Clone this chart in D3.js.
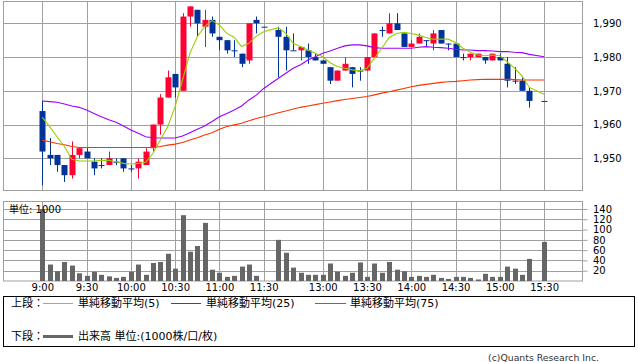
<!DOCTYPE html>
<html><head><meta charset="utf-8">
<script src="https://cdn.jsdelivr.net/npm/d3@7"></script>
<style>
body{margin:0;background:#fff;}
svg{display:block;}
text{font-family:"DejaVu Sans","Noto Sans CJK JP",sans-serif;}
</style>
</head><body><svg id="c" width="638" height="362"></svg>
<script>
// ---- data ----
const timeLabels = ["9:00","9:30","10:00","10:30","11:00","11:30","13:00","13:30","14:00","14:30","15:00","15:30"];
const timeIndex  = [0,6,12,18,24,30,38,44,50,56,62,68];
const priceTicks = [1950,1960,1970,1980,1990];
const priceTickLabels = ["1,950","1,960","1,970","1,980","1,990"];
const volumeTicks = [20,40,60,80,100,120,140];

const openP = [1964,1951,1951,1948,1945,1951,1952,1949,1948,1948,1949,1950,1947,1947,1948,1953,1960,1968,1975,1970,
 1992,1994,1989,1991,1986,1985,1982,1981,1979,1991,1989,null,1988,1986,1982,1982,1982,1980,1979,1977,
 1973,1976,1977,1976,1976,1980,1988,1987,1990,1987,1983,1984,1985,1984,1988,1984,1984,1980,1980,1980,
 1980,1979,1980,1978,1973,1973,1970,null,1967];
const highP = [1967,1956,1951,1948,1955,1953,1953,1950,1950,1952,1950,1950,1948,1950,1953,1960,1969,1976,1975,1993,
 1995,1994,1994,1992,1986,1985,1985,1981,1990,1992,1989,null,1989,1989,1987,1983,1984,1981,1979,1977,
 1976,1980,1977,1977,1980,1987,1989,1993,1993,1987,1985,1987,1985,1988,1988,1984,1984,1981,1981,1981,
 1980,1981,1981,1980,1977,1974,1971,null,1967];
const lowP = [1942,1948,1946,1943,1944,1950,1950,1945,1947,1948,1948,1946,1946,1944,1948,1952,1957,1968,1968,1970,
 1989,1986,1983,1986,1982,1981,1980,1977,1978,1987,1989,null,1974,1976,1982,1979,1978,1979,1978,1972,
 1973,1976,1971,1973,1976,1980,1986,1987,1988,1983,1983,1984,1983,1982,1984,1982,1980,1979,1979,1980,
 1978,1979,1979,1971,1972,1970,1965,null,1967];
const closeP = [1952,1950,1948,1945,1951,1953,1950,1947,1948,1950,1949,1947,1947,1949,1952,1960,1968,1974,1971,1992,
 1995,1990,1991,1987,1985,1982,1982,1978,1990,1990,1989,null,1986,1982,1982,1983,1980,1979,1978,1973,
 1976,1978,1975,1976,1980,1987,1988,1990,1988,1983,1984,1986,1985,1987,1984,1984,1980,1980,1981,1981,
 1979,1981,1979,1973,1973,1970,1967,null,1967];
const volume = [140,32,19,37,30,15,10,18,12,9,6,8,18,32,12,35,37,53,24,128,
 57,68,113,22,16,8,10,28,32,10,0,null,80,55,26,16,12,12,12,34,
 18,10,16,36,8,34,16,37,22,19,8,10,8,12,6,4,8,8,6,3,
 14,8,8,28,24,12,43,null,76];
const ma5 = [1962.1,1959.4,1956.4,1953.5,1949.7,1949.2,1949.2,1949.2,1949.4,1949.4,1949.0,1948.5,1948.3,1948.5,1948.8,1951.5,1955.4,1959.4,1965.3,1973.2,
 1981.1,1986.0,1989.0,1990.8,1989.5,1987.0,1985.9,1983.1,1984.1,1986.2,1987.5,null,1988.7,1987.0,1984.1,1983.1,1982.1,1981.1,1980.1,1978.3,
 1977.2,1976.7,1976.2,1975.9,1976.7,1979.6,1982.6,1985.8,1987.0,1987.3,1987.0,1986.5,1985.8,1985.3,1985.3,1985.3,1984.3,1982.6,1981.4,1980.6,
 1980.4,1980.6,1980.4,1978.6,1976.7,1974.4,1971.0,null,1969.0];
const ma25 = [1967.0,1966.8,1966.6,1966.1,1965.5,1965.1,1964.3,1963.3,1962.3,1961.4,1960.7,1959.6,1958.4,1957.4,1956.4,1956.1,1956.0,1956.0,1956.0,1956.6,
 1957.6,1958.6,1959.6,1960.9,1962.3,1963.3,1964.3,1965.5,1967.3,1968.7,1970.7,null,1973.7,1975.2,1976.7,1977.7,1979.1,1980.1,1981.1,1981.8,
 1982.6,1983.3,1983.6,1983.6,1983.3,1982.8,1982.6,1982.6,1982.6,1982.6,1982.6,1982.9,1983.1,1982.9,1982.8,1982.6,1982.3,1982.1,1982.1,1981.9,
 1981.9,1981.8,1981.6,1981.6,1981.4,1981.3,1980.8,null,1980.1];
const ma75 = [1955.3,1954.9,1954.4,1954.0,1953.5,1953.2,1953.2,1953.2,1953.2,1953.2,1953.2,1953.2,1953.2,1953.2,1953.2,1953.2,1953.5,1953.9,1954.2,1954.7,
 1955.4,1956.1,1956.9,1957.6,1958.6,1959.4,1959.9,1960.4,1961.1,1961.8,1962.3,null,1963.5,1964.0,1964.6,1965.1,1965.5,1965.9,1966.3,1966.7,
 1967.1,1967.4,1967.7,1968.0,1968.3,1968.8,1969.3,1969.7,1970.2,1970.7,1971.2,1971.6,1971.9,1972.2,1972.5,1972.7,1972.8,1973.0,1973.2,1973.3,
 1973.4,1973.4,1973.4,1973.4,1973.3,1973.2,1973.2,null,1973.2];

// ---- layout ----
const svg = d3.select("#c");
const L = 3.5, R = 582.5;
const pTop = 1.5, pBot = 190.5;
const vTop = 201.5, vBot = 281;
const gridC = "#a0a0a0";

const x = d3.scaleLinear().domain([0,68]).range([42.3,544.1]);
const yP = d3.scaleLinear().domain([1950,1990]).range([158.3,23.3]);
const yV = d3.scaleLinear().domain([0,140]).range([vBot,209]);

const idx = d3.range(openP.length).filter(i => openP[i] !== null);

// ---- upper panel grid ----
const gU = svg.append("g");
gU.selectAll(".hg").data(priceTicks).join("line")
  .attr("x1",L).attr("x2",R)
  .attr("y1",d=>Math.round(yP(d))+0.5).attr("y2",d=>Math.round(yP(d))+0.5)
  .attr("stroke",gridC).attr("stroke-width",1);
gU.selectAll(".vg").data(timeIndex).join("line")
  .attr("x1",d=>Math.round(x(d))+0.5).attr("x2",d=>Math.round(x(d))+0.5)
  .attr("y1",pTop).attr("y2",pBot)
  .attr("stroke",gridC).attr("stroke-width",1);
gU.append("rect").attr("x",L).attr("y",pTop).attr("width",R-L).attr("height",pBot-pTop)
  .attr("fill","none").attr("stroke",gridC).attr("stroke-width",1);

// price axis labels
const axP = d3.axisRight(yP).tickValues(priceTicks).tickSize(0).tickPadding(10.5)
  .tickFormat((d,i)=>priceTickLabels[i]);
const gAxP = svg.append("g").attr("transform",`translate(${R},0)`).call(axP);
gAxP.select(".domain").remove();
gAxP.selectAll("text").attr("font-size",10).attr("fill","#000")
  .style("font-family","'DejaVu Sans',sans-serif");

// ---- candles ----
const upC = "#ff0033", dnC = "#003399";
const colorOf = i => closeP[i] > openP[i] ? upC : dnC;
const gC = svg.append("g");
gC.selectAll(".wick").data(idx).join("line")
  .attr("x1",i=>Math.round(x(i))+0.5).attr("x2",i=>Math.round(x(i))+0.5)
  .attr("y1",i=>yP(highP[i])).attr("y2",i=>yP(lowP[i]))
  .attr("stroke",colorOf).attr("stroke-width",1);
gC.selectAll(".body").data(idx).join("rect")
  .attr("x",i=>Math.round(x(i))-2.5).attr("width",6)
  .attr("y",i=>Math.min(yP(openP[i]),yP(closeP[i])))
  .attr("height",i=>Math.max(1,Math.abs(yP(openP[i])-yP(closeP[i]))))
  .attr("fill",colorOf);

// ---- moving averages ----
const maLine = arr => d3.line().x(i=>x(i)).y(i=>yP(arr[i]))(d3.range(arr.length).filter(i=>arr[i]!==null));
svg.append("path").attr("d",maLine(ma75)).attr("fill","none").attr("stroke","#ff3300").attr("stroke-width",1.1);
svg.append("path").attr("d",maLine(ma25)).attr("fill","none").attr("stroke","#9900ff").attr("stroke-width",1.1);
svg.append("path").attr("d",maLine(ma5)).attr("fill","none").attr("stroke","#99cc00").attr("stroke-width",1.1);

// ---- volume panel ----
const gV = svg.append("g");
gV.selectAll(".hg").data(volumeTicks).join("line")
  .attr("x1",L).attr("x2",R)
  .attr("y1",d=>Math.round(yV(d))+0.5).attr("y2",d=>Math.round(yV(d))+0.5)
  .attr("stroke",gridC).attr("stroke-width",1);
gV.selectAll(".vg").data(timeIndex).join("line")
  .attr("x1",d=>Math.round(x(d))+0.5).attr("x2",d=>Math.round(x(d))+0.5)
  .attr("y1",vTop).attr("y2",vBot)
  .attr("stroke",gridC).attr("stroke-width",1);
gV.append("rect").attr("x",L).attr("y",vTop).attr("width",R-L).attr("height",vBot-vTop)
  .attr("fill","none").attr("stroke",gridC).attr("stroke-width",1);

const vIdx = d3.range(volume.length).filter(i=>volume[i]!==null && volume[i]>0);
gV.selectAll(".vb").data(vIdx).join("rect")
  .attr("x",i=>Math.round(x(i))-2).attr("width",5)
  .attr("y",i=>yV(volume[i])).attr("height",i=>vBot-yV(volume[i]))
  .attr("fill","#666666");

const axV = d3.axisRight(yV).tickValues(volumeTicks).tickSize(5).tickPadding(5.5);
const gAxV = svg.append("g").attr("transform",`translate(${R},0)`).call(axV);
gAxV.select(".domain").remove();
gAxV.selectAll("line").attr("stroke",gridC);
gAxV.selectAll("text").attr("font-size",10).attr("fill","#000")
  .style("font-family","'DejaVu Sans',sans-serif");

svg.append("text").attr("x",9).attr("y",212.5).attr("font-size",10).attr("fill","#000").text("単位: 1000");

// time axis
const axT = d3.axisBottom(x).tickValues(timeIndex).tickSize(0).tickPadding(3)
  .tickFormat((d,i)=>timeLabels[i]);
const gAxT = svg.append("g").attr("transform",`translate(0,${vBot})`).call(axT);
gAxT.select(".domain").remove();
gAxT.selectAll("text").attr("font-size",10).attr("fill","#000")
  .style("font-family","'DejaVu Sans',sans-serif");

// ---- legend ----
const gL = svg.append("g");
gL.append("rect").attr("x",3.5).attr("y",296.5).attr("width",631).attr("height",50)
  .attr("fill","none").attr("stroke","#000").attr("stroke-width",1);
const legendItems = [
  {x1:43, x2:73, tx:78, label:"単純移動平均(5)", color:"#99cc00"},
  {x1:171, x2:201, tx:206, label:"単純移動平均(25)", color:"#9900ff"},
  {x1:315, x2:346, tx:350, label:"単純移動平均(75)", color:"#ff3300"}
];
gL.append("text").attr("x",11).attr("y",307).attr("font-size",11).text("上段：");
legendItems.forEach(d=>{
  gL.append("line").attr("x1",d.x1).attr("x2",d.x2).attr("y1",303.5).attr("y2",303.5)
    .attr("stroke",d.color).attr("stroke-width",1);
  gL.append("text").attr("x",d.tx).attr("y",307).attr("font-size",11).text(d.label);
});
gL.append("text").attr("x",11).attr("y",340).attr("font-size",11).text("下段：");
gL.append("line").attr("x1",43).attr("x2",73).attr("y1",336.5).attr("y2",336.5)
  .attr("stroke","#666").attr("stroke-width",3);
gL.append("text").attr("x",78).attr("y",340).attr("font-size",11).text("出来高 単位:(1000株/口/枚)");

svg.append("text").attr("x",599).attr("y",361).attr("text-anchor","end")
  .attr("font-size",9.3).attr("fill","#333").text("(c)Quants Research Inc.");
</script>
</body></html>
